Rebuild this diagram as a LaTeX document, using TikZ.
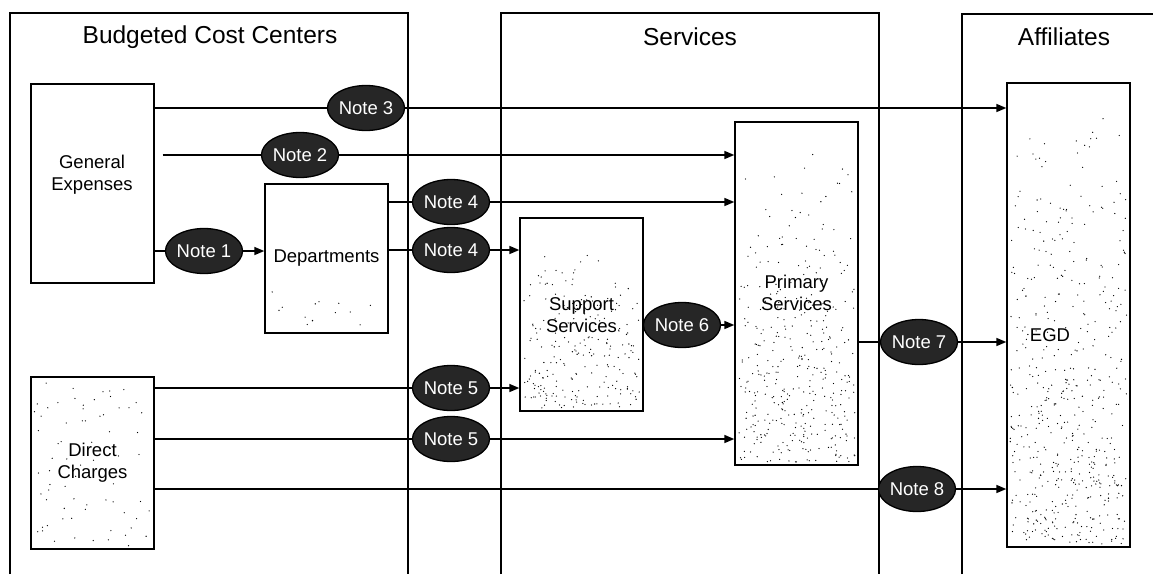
\documentclass[tikz,border=0pt]{standalone}
\usepackage{fontspec}
\setmainfont{Liberation Sans}
\usetikzlibrary{arrows.meta,shapes.geometric}
\tikzset{
  panel/.style={draw=black, line width=1.2pt},
  title/.style={font=\fontsize{24.5}{28}\selectfont, inner sep=0pt},
  box/.style={draw=black, line width=1.4pt, fill=white, inner sep=0pt, align=center,
              font=\fontsize{18.5}{22}\selectfont},
  lbl/.style={inner sep=0pt, align=center, font=\fontsize{18.5}{22}\selectfont},
  note/.style={ellipse, draw=black, line width=1.3pt, fill=black!85, text=white,
               minimum width=65pt, minimum height=45pt, inner sep=0pt,
               font=\fontsize{18.5}{20}\selectfont},
  link/.style={draw=black, line width=1.6pt},
  arr/.style={draw=black, line width=1.6pt, -{Triangle[length=10pt,width=8pt]}},
  dot/.style={fill=black}
}
\newcommand\stipplearea[5]{% x0 y0 w h n
  \foreach \k in {1,...,#5}{%
    \pgfmathsetmacro\rx{#1+#3*rnd}%
    \pgfmathsetmacro\ry{#2+#4*sqrt(rnd)}%
    \fill[dot] (\rx,\ry) circle (0.65);
  }%
}
\newcommand\scatterarea[5]{% uniform
  \foreach \k in {1,...,#5}{%
    \pgfmathsetmacro\rx{#1+#3*rnd}%
    \pgfmathsetmacro\ry{#2+#4*rnd}%
    \fill[dot] (\rx,\ry) circle (0.65);
  }%
}
\begin{document}
\begin{tikzpicture}[x=1pt,y=-1pt]
\useasboundingbox (0,0) rectangle (1153,574);
\fill[white] (0,0) rectangle (1153,574);
\pgfmathsetseed{7}

% panels
\draw[panel] (10,574) -- (10,13) -- (408,13) -- (408,574);
\draw[panel] (501,574) -- (501,13) -- (879,13) -- (879,574);
\draw[panel] (962,574) -- (962,14) -- (1153,14);
\node[title] (t1) at (210,37) {Budgeted Cost Centers};
\node[title] (t2) at (690,37) {Services};
\node[title] (t3) at (1064,37) {Affiliates};

% boxes
\node[box, minimum width=123pt, minimum height=199pt] (ge) at (92.5,183.5) {};
\node[lbl] (get) at (92,175) {General\\Expenses};
\node[box, minimum width=123pt, minimum height=149pt] (dep) at (326.5,258.5) {Departments};
\node[box, minimum width=123pt, minimum height=172pt] (dc) at (92.5,463) {};
\node[box, minimum width=123pt, minimum height=193pt] (sup) at (581.5,314.5) {};
\node[box, minimum width=123pt, minimum height=343pt] (prim) at (796.5,293.5) {};
\node[box, minimum width=123pt, minimum height=464pt] (egd) at (1068.5,315) {};

% stipple
\scatterarea{34}{380}{117}{166}{70}
\scatterarea{270}{290}{113}{40}{14}
\stipplearea{524}{240}{116}{168}{230}
\stipplearea{739}{150}{116}{312}{380}
\stipplearea{1010}{90}{117}{454}{520}

\node[lbl] (dct) at (92.5,463) {Direct\\Charges};
\node[lbl] (supt) at (581.5,315) {Support\\Services};
\node[lbl] (primt) at (796.5,293) {Primary\\Services};
\node[lbl] (egdt) at (1050,335) {EGD};

% notes
\node[note] (n1) at (204,251) {Note 1};
\node[note] (n2) at (300,155) {Note 2};
\node[note] (n3) at (366,108) {Note 3};
\node[note] (n4a) at (451,202) {Note 4};
\node[note] (n4b) at (451,250) {Note 4};
\node[note] (n5a) at (451,388) {Note 5};
\node[note] (n5b) at (451,439) {Note 5};
\node[note] (n6) at (682,325) {Note 6};
\node[note] (n7) at (919,342) {Note 7};
\node[note] (n8) at (917,489) {Note 8};

% connectors
\draw[link] (ge.east |- n1) -- (n1.west);
\draw[arr] (n1.east) -- (dep.west |- n1);
\draw[link, shorten <=8pt] (ge.east |- n2) -- (n2.west);
\draw[arr] (n2.east) -- (prim.west |- n2);
\draw[link] (ge.east |- n3) -- (n3.west);
\draw[arr] (n3.east) -- (egd.west |- n3);
\draw[link] (dep.east |- n4a) -- (n4a.west);
\draw[arr] (n4a.east) -- (prim.west |- n4a);
\draw[link] (dep.east |- n4b) -- (n4b.west);
\draw[arr] (n4b.east) -- (sup.west |- n4b);
\draw[link] (dc.east |- n5a) -- (n5a.west);
\draw[arr] (n5a.east) -- (sup.west |- n5a);
\draw[link] (dc.east |- n5b) -- (n5b.west);
\draw[arr] (n5b.east) -- (prim.west |- n5b);
\draw[link] (sup.east |- n6) -- (n6.west);
\draw[arr] (n6.east) -- (prim.west |- n6);
\draw[link] (prim.east |- n7) -- (n7.west);
\draw[arr] (n7.east) -- (egd.west |- n7);
\draw[link] (dc.east |- n8) -- (n8.west);
\draw[arr] (n8.east) -- (egd.west |- n8);
\end{tikzpicture}
\end{document}
